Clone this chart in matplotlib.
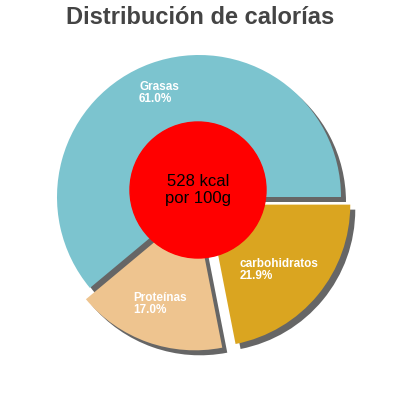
import matplotlib
matplotlib.use("Agg")
import matplotlib.pyplot as plt
from matplotlib.patches import Wedge

plt.rcParams['font.family'] = ['Liberation Sans', 'DejaVu Sans']

labels = ["Grasas", "Proteínas", "carbohidratos"]
values = [61.0, 17.0, 21.9]
colors = ["#7cc4cf", "#eec48f", "#daa520"]
explode = [0, 12, 12]
center_text = "528 kcal\npor 100g"

fig = plt.figure(figsize=(4, 4), dpi=100)
ax = fig.add_axes([0, 0, 1, 1])

wedges, _ = ax.pie(values, colors=colors, explode=explode, radius=142,
       center=(199, 203), startangle=0, counterclock=True,
       wedgeprops=dict(linewidth=0), frame=True)
for w in wedges:
    s = Wedge((w.center[0] + 5, w.center[1] - 5), w.r, w.theta1, w.theta2,
              color="#666666", zorder=w.get_zorder() - 0.5, linewidth=0)
    ax.add_patch(s)
ax.set_xlim(0, 400); ax.set_ylim(0, 400); ax.set_aspect("equal"); ax.axis("off")

ax.add_patch(plt.Circle((198, 210), 68, color="#ff0000", zorder=5))
ax.text(198, 210, center_text, ha="center", va="center", fontsize=12, zorder=6)

label_pos = [(139, 307), (133, 96), (240, 130)]
for (x, y), lab, v in zip(label_pos, labels, values):
    ax.text(x, y, f"{lab}\n{v:.1f}%", color="white", fontsize=8.5, fontweight="bold",
            ha="left", va="center", linespacing=1.0, zorder=6)

fig.text(0.5, 0.955, "Distribución de calorías", ha="center", va="center",
         fontsize=17, fontweight="bold", color="#444444")
fig.savefig("out.png", dpi=100)
